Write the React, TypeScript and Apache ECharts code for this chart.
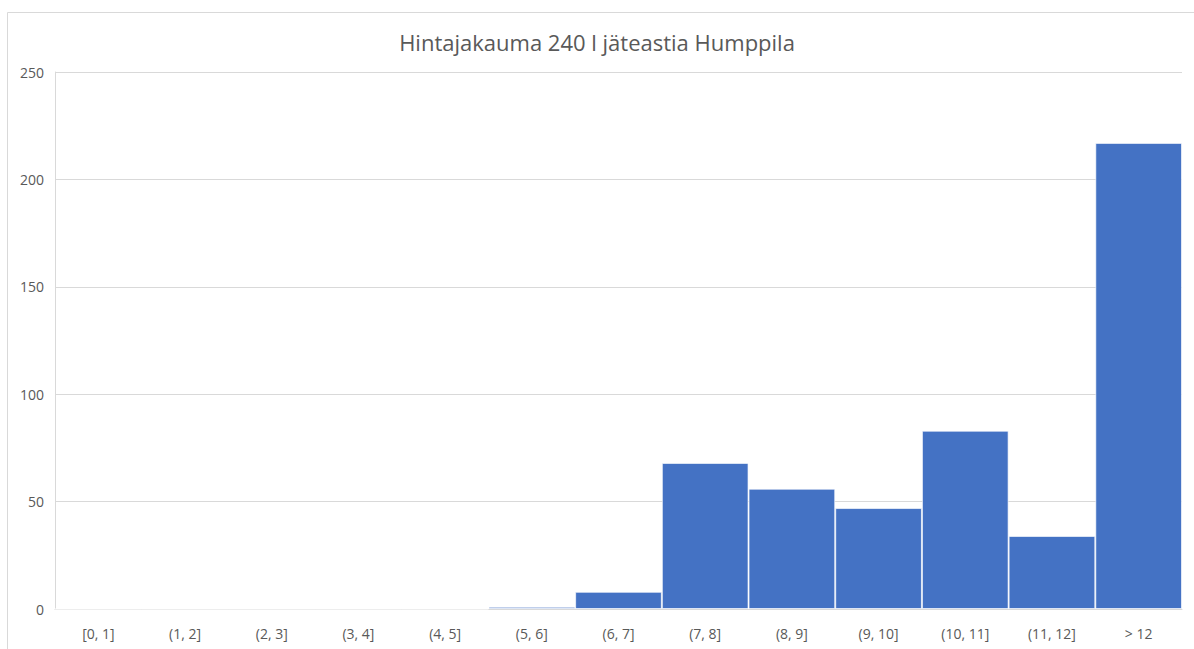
import React, { useEffect, useRef } from "react";
import * as echarts from "echarts";

const titleText = "Hintajakauma 240 l jäteastia Humppila";
const categories = ["[0, 1]", "(1, 2]", "(2, 3]", "(3, 4]", "(4, 5]", "(5, 6]", "(6, 7]", "(7, 8]", "(8, 9]", "(9, 10]", "(10, 11]", "(11, 12]", "> 12"];
const counts = [0, 0, 0, 0, 0, 1, 8, 68, 56, 47, 83, 34, 217];
const yTicks = { min: 0, max: 250, interval: 50 };

export default function App() {
  const ref = useRef<HTMLDivElement>(null);
  useEffect(() => {
    if (!ref.current) return;
    const chart = echarts.init(ref.current, null, { renderer: "svg" });
    chart.setOption({
      animation: false,
      backgroundColor: "#ffffff",
      textStyle: { fontFamily: "Open Sans" },
      title: {
        text: titleText,
        left: "center",
        top: 26,
        textStyle: { fontFamily: "Open Sans", fontSize: 22, fontWeight: "normal", color: "#595959" },
      },
      graphic: [
        {
          type: "rect",
          shape: { x: 7.5, y: 12.5, width: 1200, height: 700 },
          style: { fill: "none", stroke: "#d9d9d9", lineWidth: 1 },
          silent: true,
          z: -1,
        },
      ],
      grid: { left: 55, right: 12, top: 72, bottom: 40 },
      xAxis: {
        type: "category",
        data: categories,
        axisTick: { show: false },
        axisLine: { show: true, lineStyle: { color: "#d9d9d9", width: 1 } },
        axisLabel: { color: "#595959", fontSize: 14, margin: 17, interval: 0 },
      },
      yAxis: {
        type: "value",
        min: yTicks.min,
        max: yTicks.max,
        interval: yTicks.interval,
        axisLine: { show: true, lineStyle: { color: "#d9d9d9", width: 1 } },
        axisTick: { show: false },
        splitLine: { lineStyle: { color: "#d9d9d9", width: 1 } },
        axisLabel: { color: "#595959", fontSize: 14, margin: 11 },
      },
      series: [
        {
          type: "bar",
          data: counts,
          barCategoryGap: "0%",
          itemStyle: { color: "#4472C4", borderColor: "rgba(255,255,255,0.65)", borderWidth: 1 },
        },
      ],
    });
    return () => chart.dispose();
  }, []);
  return <div ref={ref} style={{ position: "fixed", left: 0, top: 0, width: 1194, height: 649 }} />;
}
